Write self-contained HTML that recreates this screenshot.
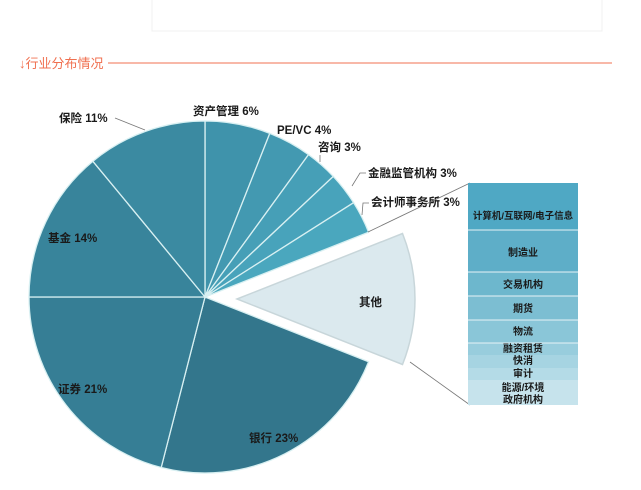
<!DOCTYPE html>
<html><head><meta charset="utf-8"><style>
body{margin:0;width:641px;height:490px;background:#fff;overflow:hidden}
svg{display:block}
text{font-family:"Liberation Sans","Noto Sans CJK SC",sans-serif}
</style></head><body>
<svg width="641" height="490" viewBox="0 0 641 490">
<rect x="152" y="-1" width="450" height="32" fill="#fff" stroke="#f0f0f0"/>
<text x="19" y="68" font-size="13" fill="#f07050">↓行业分布情况</text>
<line x1="108" y1="63" x2="612" y2="63" stroke="#f07050" stroke-width="1"/>
<g stroke="#d8f0f2" stroke-width="1.3">
<path d="M205,297 L205,121 A176,176 0 0 1 269.8,133.4 Z" fill="#3f93ab"/>
<path d="M205,297 L269.8,133.4 A176,176 0 0 1 308.5,154.6 Z" fill="#4399b1"/>
<path d="M205,297 L308.5,154.6 A176,176 0 0 1 333.3,176.4 Z" fill="#469fb7"/>
<path d="M205,297 L333.3,176.4 A176,176 0 0 1 353.6,202.7 Z" fill="#48a3bb"/>
<path d="M205,297 L353.6,202.7 A176,176 0 0 1 368.6,232.2 Z" fill="#4aa7be"/>
<path d="M205,297 L368.6,361.8 A176,176 0 0 1 161.2,467.5 Z" fill="#33768c"/>
<path d="M205,297 L161.2,467.5 A176,176 0 0 1 29,297 Z" fill="#367e95"/>
<path d="M205,297 L29,297 A176,176 0 0 1 92.9,161.3 Z" fill="#38849b"/>
<path d="M205,297 L92.9,161.3 A176,176 0 0 1 205,121 Z" fill="#3b8aa1"/>
</g>
<path d="M237,299 L402.5,233.5 A178,178 0 0 1 402.5,364.5 Z" fill="#dbe9ee" stroke="#c8d6da" stroke-width="1.5"/>
<g font-size="11.5" font-weight="bold" fill="#1a1a1a">
<text x="59" y="122">保险 11%</text>
<text x="193" y="115">资产管理 6%</text>
<text x="277" y="134">PE/VC 4%</text>
<text x="318" y="151">咨询 3%</text>
<text x="368" y="177">金融监管机构 3%</text>
<text x="371" y="206">会计师事务所 3%</text>
<text x="48" y="242">基金 14%</text>
<text x="58" y="393">证券 21%</text>
<text x="249" y="442">银行 23%</text>
<text x="359" y="306">其他</text>
</g>
<g stroke="#777" fill="none" stroke-width="0.8">
<polyline points="115,118 145,130"/>
<polyline points="320,155 320,162"/>
<polyline points="366,173 360,173 352,186"/>
<polyline points="369,203 363,203 362,215"/>
<line x1="368" y1="232" x2="470" y2="183"/>
<line x1="410" y1="362" x2="470" y2="405"/>
</g>
<rect x="468" y="183" width="110" height="47" fill="#4fa8c4"/>
<rect x="468" y="230" width="110" height="42" fill="#5eaec8"/>
<rect x="468" y="272" width="110" height="24" fill="#6db7cd"/>
<rect x="468" y="296" width="110" height="24" fill="#7cbed2"/>
<rect x="468" y="320" width="110" height="23" fill="#8ac6d8"/>
<rect x="468" y="343" width="110" height="12" fill="#98cddd"/>
<rect x="468" y="355" width="110" height="13" fill="#a6d4e2"/>
<rect x="468" y="368" width="110" height="12" fill="#b4dbe7"/>
<rect x="468" y="380" width="110" height="25" fill="#c6e3ec"/>
<g stroke="#e6f3f6" stroke-width="1">
<line x1="468" y1="230" x2="578" y2="230"/><line x1="468" y1="272" x2="578" y2="272"/>
<line x1="468" y1="296" x2="578" y2="296"/><line x1="468" y1="320" x2="578" y2="320"/>
<line x1="468" y1="343" x2="578" y2="343"/>
</g>
<g font-size="10" font-weight="bold" fill="#1a1a1a" text-anchor="middle">
<text x="523" y="219" font-size="9.5">计算机/互联网/电子信息</text>
<text x="523" y="256">制造业</text>
<text x="523" y="288">交易机构</text>
<text x="523" y="312">期货</text>
<text x="523" y="335">物流</text>
<text x="523" y="352">融资租赁</text>
<text x="523" y="364">快消</text>
<text x="523" y="377">审计</text>
<text x="523" y="391">能源/环境</text>
<text x="523" y="403">政府机构</text>
</g>
</svg>
</body></html>
